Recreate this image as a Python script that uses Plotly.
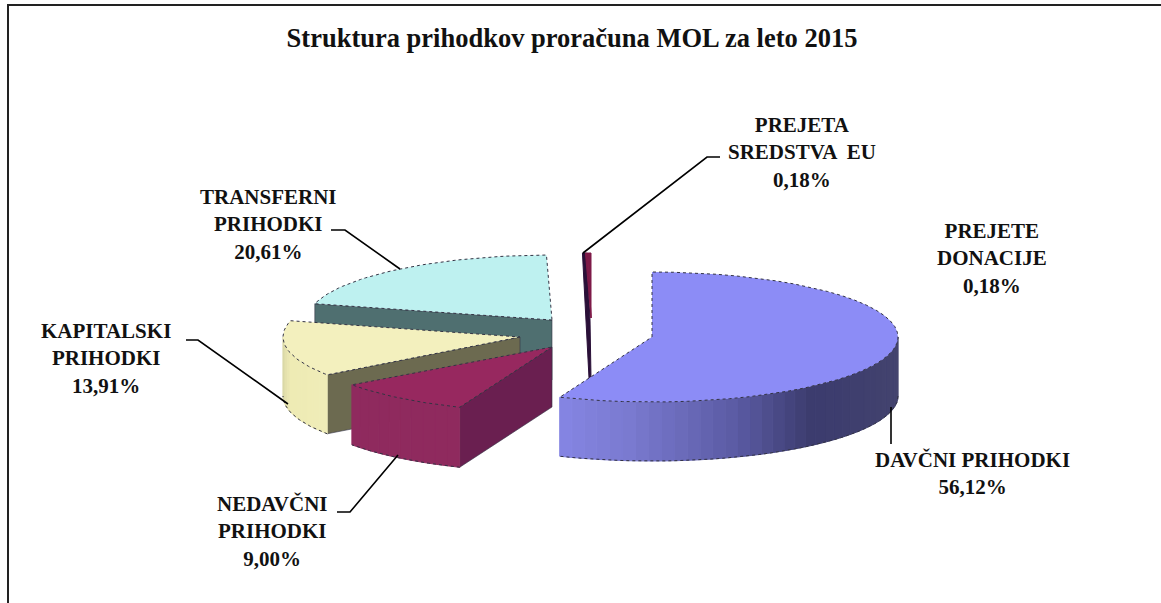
import math
import plotly.graph_objects as go

TITLE = "Struktura prihodkov proračuna MOL za leto 2015"
categories = ["DAVČNI PRIHODKI", "NEDAVČNI PRIHODKI", "KAPITALSKI PRIHODKI",
              "TRANSFERNI PRIHODKI", "PREJETE DONACIJE", "PREJETA SREDSTVA EU"]
values = [56.12, 9.00, 13.91, 20.61, 0.18, 0.18]
label_lines = ["DAVČNI PRIHODKI", "NEDAVČNI<br>PRIHODKI", "KAPITALSKI<br>PRIHODKI",
               "TRANSFERNI<br>PRIHODKI", "PREJETE<br>DONACIJE", "PREJETA<br>SREDSTVA  EU"]

# Drawing geometry (pixel space of the 1161x603 page)
W, H = 1161, 603
slice_rx = [246, 246, 237, 245, 246, 246]
RY = 65
slice_depth = [59, 60, 59, 60, 60, 60]
vertex = [(652, 337), (552, 347), (520, 337), (552, 320), (591, 318), (591, 318)]
label_pos = [(972, 473), (272, 531), (106, 358), (268, 224), (992, 258), (802, 152)]
leaders = [
    [(891, 407), (891, 444)],
    [(398, 455), (350, 512), (337, 512)],
    [(288, 404), (198, 340), (186, 340)],
    [(400, 269), (345, 230), (331, 230)],
    [],
    [(583, 253), (707, 157), (720, 157)],
]
top_col = ["#8C8CF6", "#97285F", "#F3F0BE", "#BEF1F0", "#7E1A48", "#7E1A48"]
face_col = [None, "#6A1F50", "#6C6A50", "#4F6F70", None, None]
rim_stops = [
    [(0.0, "#46466F"), (0.45, "#3C3C6E"), (0.62, "#5A5AA2"), (0.85, "#7A7AD0"), (1.0, "#8585E4")],
    [(0.0, "#8F2A5E"), (1.0, "#8F2A5E")],
    [(0.0, "#F0EDB8"), (0.6, "#EEEBB4"), (1.0, "#D8D6A6")],
    None, None, None,
]
EDGE = "#333344"

start = []
a = 0.0
for v in values:
    start.append(a)
    a += v * 3.6


def rim(i, t):
    r = math.radians(t)
    c = vertex[i]
    return c[0] + slice_rx[i] * math.sin(r), c[1] - RY * math.cos(r)


def hex2rgb(h):
    return tuple(int(h[i:i + 2], 16) for i in (1, 3, 5))


def interp(stops, f):
    for (f0, c0), (f1, c1) in zip(stops, stops[1:]):
        if f <= f1:
            k = (f - f0) / (f1 - f0)
            a0, a1 = hex2rgb(c0), hex2rgb(c1)
            return "rgb(%d,%d,%d)" % tuple(a0[i] + (a1[i] - a0[i]) * k for i in range(3))
    return stops[-1][1]


fig = go.Figure()


def poly(pts, fill, line=None, width=1, dash="solid"):
    xs = [p[0] for p in pts] + [pts[0][0]]
    ys = [p[1] for p in pts] + [pts[0][1]]
    fig.add_trace(go.Scatter(x=xs, y=ys, mode="lines", fill="toself", fillcolor=fill,
                             line=dict(color=line or fill, width=width, dash=dash),
                             hoverinfo="skip", showlegend=False))


def path(pts, color, width=1, dash="solid"):
    fig.add_trace(go.Scatter(x=[p[0] for p in pts], y=[p[1] for p in pts], mode="lines",
                             line=dict(color=color, width=width, dash=dash),
                             hoverinfo="skip", showlegend=False))


# Painter's order: back slices first
for i in [4, 5, 3, 2, 1, 0]:
    c = vertex[i]
    d = slice_depth[i]
    t0, t1 = start[i], start[i] + values[i] * 3.6
    arc = [rim(i, t0 + (t1 - t0) * k / 40) for k in range(41)]
    top = [c] + arc

    if i in (4, 5):  # thin slivers
        if i == 4:
            p = rim(i, t0)
            poly([(p[0] - 3, p[1]), (p[0] + 1, p[1]), (c[0] - 1, c[1] + 2), (c[0], c[1] + d),
                  (c[0] - 2, c[1] + d)], "#2A1038")
        poly(top, top_col[i])
        continue

    # radial face toward the viewer
    if face_col[i]:
        p = rim(i, t0)
        poly([c, p, (p[0], p[1] + d), (c[0], c[1] + d)], face_col[i], EDGE, 0.6)

    # outer rim, only the part facing the viewer
    r0, r1 = max(t0, 90), min(t1, 270)
    if r1 > r0 and rim_stops[i]:
        n = max(4, int((r1 - r0) / 3))
        for k in range(n):
            a0 = r0 + (r1 - r0) * k / n
            a1 = r0 + (r1 - r0) * (k + 1) / n
            p0, p1 = rim(i, a0), rim(i, a1)
            poly([p0, p1, (p1[0], p1[1] + d), (p0[0], p0[1] + d)],
                 interp(rim_stops[i], (k + .5) / n))
        low = [rim(i, r0 + (r1 - r0) * k / 40) for k in range(41)]
        path([(x, y + d) for x, y in low], EDGE, 1, "dot")

    poly(top, top_col[i], EDGE, 1, "dot")

# Leader lines
for pts in leaders:
    if pts:
        path(pts, "#000000", 1.6)

for i, (x, y) in enumerate(label_pos):
    pct = ("%.2f" % values[i]).replace(".", ",") + "%"
    txt = "<br>".join("<b>" + s + "</b>" for s in (label_lines[i] + "<br>" + pct).split("<br>"))
    fig.add_annotation(x=x, y=y, xref="x", yref="y", text=txt,
                       showarrow=False, xanchor="center", yanchor="middle",
                       font=dict(family="Liberation Serif", size=21, color="#111111"))

fig.update_layout(
    width=W, height=H, margin=dict(l=0, r=0, t=0, b=0),
    paper_bgcolor="white", plot_bgcolor="white", showlegend=False,
    title=dict(text="<b>" + TITLE + "</b>", x=572 / W, y=1 - 38 / H, xanchor="center", yanchor="middle",
               xref="paper", yref="paper",
               font=dict(family="Liberation Serif", size=26.5, color="#111111")),
    xaxis=dict(range=[0, W], visible=False, fixedrange=True),
    yaxis=dict(range=[H, 0], visible=False, fixedrange=True),
    shapes=[dict(type="path", xref="x", yref="y", path="M 8 603 L 8 5 L 1161 5",
                 line=dict(color="#222222", width=2))],
)

fig.write_html("out.html", config=dict(displayModeBar=False),
               post_script="document.body.style.margin='0';")
